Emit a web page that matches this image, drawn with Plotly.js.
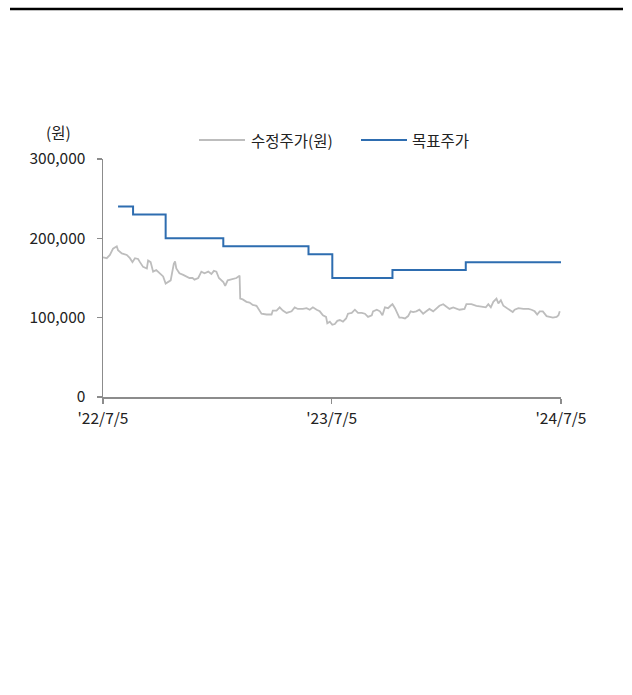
<!DOCTYPE html>
<html>
<head>
<meta charset="utf-8">
<script src="https://cdn.plot.ly/plotly-3.0.1.min.js"></script>
<style>
html,body{margin:0;padding:0;background:#fff;}
#chart{width:632px;height:695px;}
</style>
</head>
<body>
<div id="chart"></div>
<script>
// 수정주가(원)
const priceDates = [
"2022-07-05","2022-07-11","2022-07-16","2022-07-21","2022-07-27","2022-07-29","2022-08-04","2022-08-12","2022-08-17","2022-08-21",
"2022-08-25","2022-08-30","2022-09-02","2022-09-07","2022-09-13","2022-09-15","2022-09-19","2022-09-23","2022-09-28","2022-10-04",
"2022-10-09","2022-10-13","2022-10-17","2022-10-21","2022-10-26","2022-10-28","2022-10-30","2022-11-04","2022-11-10","2022-11-15",
"2022-11-20","2022-11-25","2022-11-28","2022-12-04","2022-12-09","2022-12-14","2022-12-20","2022-12-25","2022-12-29","2023-01-02",
"2023-01-06","2023-01-13","2023-01-16","2023-01-20","2023-01-26","2023-02-03","2023-02-08","2023-02-09","2023-02-13","2023-02-19",
"2023-02-24","2023-03-01","2023-03-07","2023-03-12","2023-03-15","2023-03-23","2023-03-31","2023-04-02","2023-04-08","2023-04-13",
"2023-04-18","2023-04-24","2023-05-02","2023-05-07","2023-05-12","2023-05-20","2023-05-26","2023-05-31","2023-06-05","2023-06-11",
"2023-06-16","2023-06-21","2023-06-26","2023-06-28","2023-07-02","2023-07-06","2023-07-10","2023-07-14","2023-07-18","2023-07-23",
"2023-07-28","2023-07-31","2023-08-06","2023-08-11","2023-08-16","2023-08-22","2023-08-27","2023-09-01","2023-09-07","2023-09-09",
"2023-09-15","2023-09-20","2023-09-24","2023-09-28","2023-10-03","2023-10-07","2023-10-10","2023-10-14","2023-10-18","2023-10-21",
"2023-10-25","2023-10-30","2023-11-04","2023-11-08","2023-11-12","2023-11-17","2023-11-22","2023-11-28","2023-12-03","2023-12-08",
"2023-12-14","2023-12-19","2023-12-24","2023-12-30","2024-01-04","2024-01-09","2024-01-15","2024-01-20","2024-01-25","2024-02-02",
"2024-02-05","2024-02-13","2024-02-21","2024-02-29","2024-03-07","2024-03-11","2024-03-15","2024-03-19","2024-03-24","2024-03-27",
"2024-03-31","2024-04-04","2024-04-09","2024-04-14","2024-04-19","2024-04-22","2024-04-28","2024-05-06","2024-05-14","2024-05-19",
"2024-05-24","2024-05-28","2024-06-01","2024-06-06","2024-06-12","2024-06-17","2024-06-22","2024-06-28","2024-07-01","2024-07-03"
];
const priceValues = [
176000,175000,179000,187000,190000,185000,181000,179000,175000,170000,
175000,174000,170000,164000,162000,172000,170000,158000,160000,156000,
152000,143000,145000,147000,168000,171000,162000,156000,154000,152000,
150000,150000,148000,150000,158000,156000,158000,155000,159000,158000,
150000,145000,140000,147000,148000,150000,153000,124000,123000,120000,
119000,116000,115000,109000,105000,104000,104000,109000,109000,113000,
109000,106000,108000,113000,111000,111000,112000,110000,113000,110000,
108000,103000,101000,93000,95000,91000,92000,96000,97000,95000,
99000,105000,106000,110000,106000,106000,105000,101000,103000,108000,
110000,108000,103000,113000,112000,115000,117000,112000,105000,100000,
100000,99000,102000,108000,107000,108000,110000,105000,108000,111000,
108000,111000,115000,117000,114000,111000,113000,111000,110000,111000,
117000,117000,115000,114000,113000,117000,113000,120000,124000,118000,
122000,115000,112000,110000,107000,110000,112000,111000,111000,110000,
108000,104000,108000,108000,102000,101000,100000,101000,103000,108000
];
// 목표주가
const targetDates = ["2022-07-29","2022-08-22","2022-10-13","2023-01-13","2023-05-29","2023-07-06","2023-10-10","2024-02-04","2024-07-05"];
const targetValues = [240000,230000,200000,190000,180000,150000,160000,170000,170000];

const seriesNames = ["수정주가(원)", "목표주가"];
const xTickVals = ["2022-07-05","2023-07-05","2024-07-05"];
const xTickText = ["'22/7/5","'23/7/5","'24/7/5"];
const yTickVals = [0,100000,200000,300000];
const yUnit = "(원)";

const FONT = "'Noto Sans CJK KR', 'Noto Sans', sans-serif";
const FS = 15.5;
const GRAY = "#bdbdbd";
const BLUE = "#2e6db0";
const AXIS = "#8c8c8c";

// plot area in pixels: x 103..561, y 159..397
const L = 103, R = 561, T = 159, B = 397;
const px = v => (v - L) / (R - L);
const py = v => (B - v) / (B - T);

const traces = [
  {x: priceDates, y: priceValues, type: "scatter", mode: "lines", name: seriesNames[0],
   line: {color: GRAY, width: 1.8}, showlegend: false, hoverinfo: "skip"},
  {x: targetDates, y: targetValues, type: "scatter", mode: "lines", name: seriesNames[1],
   line: {color: BLUE, width: 2, shape: "hv"}, showlegend: false, hoverinfo: "skip"}
];

const layout = {
  width: 632, height: 695,
  margin: {l: L, r: 632 - R, t: T, b: 695 - B, pad: 0},
  paper_bgcolor: "#fff", plot_bgcolor: "#fff",
  font: {family: FONT, size: FS, color: "#222"},
  showlegend: false,
  xaxis: {
    type: "date", range: [xTickVals[0], xTickVals[2]],
    tickmode: "array", tickvals: xTickVals, ticktext: xTickText,
    showgrid: false, zeroline: false, showline: true, linecolor: AXIS, linewidth: 1.5,
    ticks: "outside", ticklen: 5, tickwidth: 1.5, tickcolor: AXIS,
    tickfont: {family: FONT, size: FS, color: "#222"}, ticklabelstandoff: 2
  },
  yaxis: {
    range: [0, 300000], tickmode: "array", tickvals: yTickVals, tickformat: ",d",
    showgrid: false, zeroline: false, showline: true, linecolor: AXIS, linewidth: 1.5,
    ticks: "outside", ticklen: 5, tickwidth: 1.5, tickcolor: AXIS,
    tickfont: {family: FONT, size: FS, color: "#222"}, ticklabelstandoff: 8
  },
  shapes: [
    {type: "line", xref: "paper", yref: "paper", x0: px(10), x1: px(623), y0: py(9), y1: py(9),
     line: {color: "#000", width: 2.5}},
    {type: "line", xref: "paper", yref: "paper", x0: px(199), x1: px(245), y0: py(140), y1: py(140),
     line: {color: GRAY, width: 2}},
    {type: "line", xref: "paper", yref: "paper", x0: px(361), x1: px(407), y0: py(140), y1: py(140),
     line: {color: BLUE, width: 2}}
  ],
  annotations: [
    {text: seriesNames[0], xref: "paper", yref: "paper", x: px(249), y: py(140), xanchor: "left", yanchor: "middle",
     showarrow: false, font: {family: FONT, size: FS, color: "#222"}},
    {text: seriesNames[1], xref: "paper", yref: "paper", x: px(410), y: py(140), xanchor: "left", yanchor: "middle",
     showarrow: false, font: {family: FONT, size: FS, color: "#222"}},
    {text: yUnit, xref: "paper", yref: "paper", x: px(58), y: py(132), xanchor: "center", yanchor: "middle",
     showarrow: false, font: {family: FONT, size: FS, color: "#222"}}
  ]
};

Plotly.newPlot("chart", traces, layout, {staticPlot: true, displayModeBar: false});
</script>
</body>
</html>
